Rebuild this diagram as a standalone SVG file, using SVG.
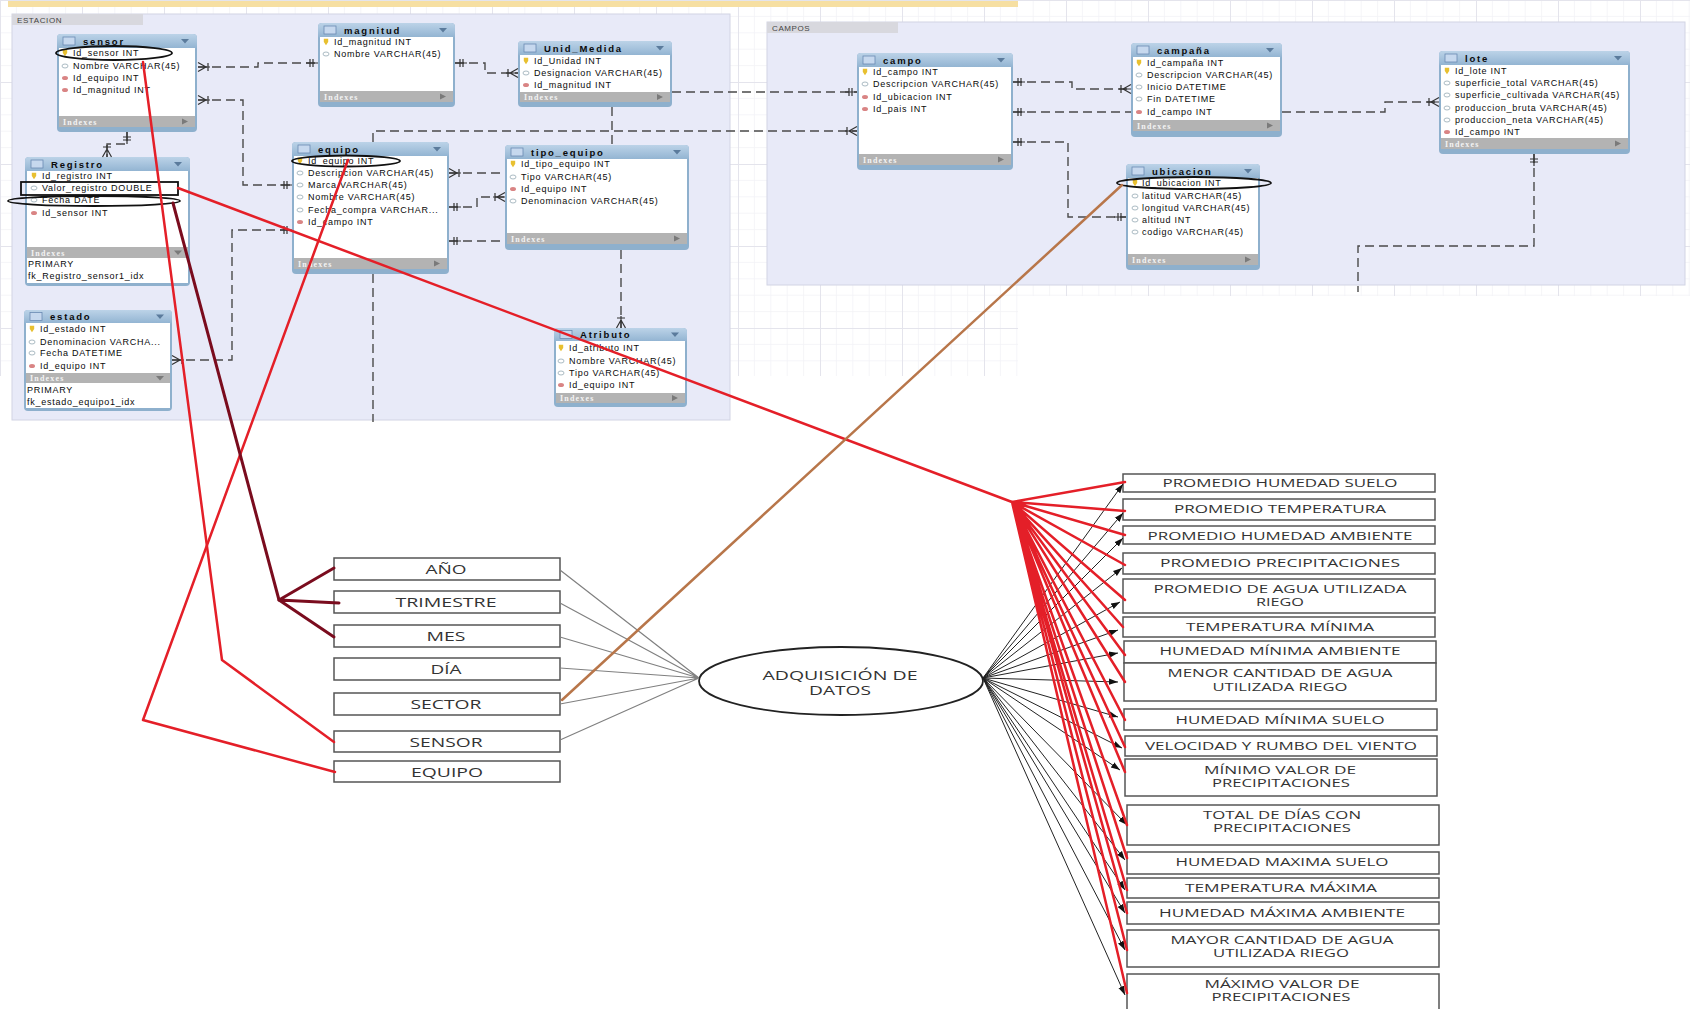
<svg xmlns="http://www.w3.org/2000/svg" width="1690" height="1009" viewBox="0 0 1690 1009">
<defs>
<linearGradient id="hg" x1="0" y1="0" x2="0" y2="1"><stop offset="0" stop-color="#bcd3e8"/><stop offset="1" stop-color="#8db0cf"/></linearGradient>
<pattern id="grid" width="82" height="82" patternUnits="userSpaceOnUse"><path d="M16.4,0V82M32.8,0V82M49.2,0V82M65.6,0V82M0,16.4H82M0,32.8H82M0,49.2H82M0,65.6H82" stroke="#f2f2f6" stroke-width="0.8" fill="none"/><path d="M0.5,0V82M0,0.5H82" stroke="#e4e4ec" stroke-width="1" fill="none"/></pattern>
<g id="ti"><rect x="-6" y="-4" width="12" height="8" fill="#c6d8ee" stroke="#6a8ab2" stroke-width="0.8"/></g>
<g id="dd"><path d="M-4,-2L4,-2L0,2.5z" fill="#5b7b9c"/></g>
<g id="ddg"><path d="M-4,-2L4,-2L0,2.5z" fill="#7a7a7a"/></g>
<g id="rtri"><path d="M-3,-3L3,0L-3,3z" fill="#7a7a7a"/></g>
<g id="ik"><path d="M-2.2,-3.2H2.2V0L0,3.2L-2.2,0z" fill="#e8c030"/></g>
<g id="ic"><ellipse rx="3" ry="2" fill="#fff" stroke="#96aab4" stroke-width="0.8"/></g>
<g id="if"><ellipse rx="3" ry="2" fill="#d98484"/></g>
<marker id="one" viewBox="-13 -6 14 12" refX="0" refY="0" markerWidth="14" markerHeight="12" markerUnits="userSpaceOnUse" orient="auto-start-reverse"><path d="M-5,-4V4M-8,-4V4M-12,0H0" stroke="#333" stroke-width="1.2" fill="none"/></marker>
<marker id="many" viewBox="-13 -6 14 12" refX="0" refY="0" markerWidth="14" markerHeight="12" markerUnits="userSpaceOnUse" orient="auto-start-reverse"><path d="M-8,0L0,-4.5M-8,0L0,4.5M-12,0H0M-10,-4V4" stroke="#333" stroke-width="1.2" fill="none"/></marker>
<marker id="ah" viewBox="0 0 10 10" refX="10" refY="5" markerWidth="9" markerHeight="9" markerUnits="userSpaceOnUse" orient="auto"><path d="M0,1.5L10,5L0,8.5z" fill="#111"/></marker>
</defs>
<style>
.panel{fill:#e8eaf8;stroke:#d2d4e4;stroke-width:1}
.tab{fill:#d8d8de}
.tabt{font-family:"Liberation Sans",sans-serif;font-size:8px;fill:#444;letter-spacing:0.6px}
.frame{fill:#8eb0cd}
.hdr{fill:url(#hg)}
.body{fill:#fff}
.idx{fill:#b3b3b3}
.tt{font-family:"Liberation Sans",sans-serif;font-size:9.5px;font-weight:bold;fill:#0a0a0a;letter-spacing:1.8px}
.rt{font-family:"Liberation Sans",sans-serif;font-size:9px;fill:#0a0a0a;letter-spacing:0.75px}
.ix{font-family:"Liberation Serif",serif;font-size:8px;font-weight:bold;fill:#f4f4f4;letter-spacing:1.2px}
.er{fill:none;stroke:#4a4a4a;stroke-width:1.4;stroke-dasharray:9 5}
.hl{fill:none;stroke:#111;stroke-width:1.8}
.red{fill:none;stroke:#e41f28;stroke-width:2.5;stroke-linecap:round;stroke-linejoin:round}
.mar{fill:none;stroke:#7a0c1e;stroke-width:3;stroke-linecap:round}
.gry{fill:none;stroke:#808080;stroke-width:1.2}
.blk{fill:none;stroke:#222;stroke-width:1}
.box{fill:#fff;stroke:#555;stroke-width:1.5}
.lt{font-family:"Open Sans","Liberation Sans",sans-serif;font-size:13px;fill:#333;text-anchor:middle}
.bt{font-family:"Open Sans","Liberation Sans",sans-serif;font-size:11px;fill:#333;text-anchor:middle}
</style>
<rect width="1690" height="1009" fill="#fff"/>
<rect x="0" y="0" width="1018" height="376" fill="url(#grid)"/>
<rect x="1018" y="0" width="672" height="296" fill="url(#grid)"/>
<rect x="8" y="1" width="1010" height="6" fill="#f6dfa2"/>
<g id="panel-estacion"><rect class="panel" x="12" y="14" width="718" height="406"/><rect class="tab" x="12" y="14" width="131" height="11"/><text class="tabt" x="17" y="22.5">ESTACION</text></g>
<g id="panel-campos"><rect class="panel" x="767" y="22" width="918" height="263"/><rect class="tab" x="767" y="22" width="131" height="11"/><text class="tabt" x="772" y="30.5">CAMPOS</text></g>

<g id="t-sensor">
<rect class="frame" x="57" y="34" width="140" height="98" rx="4"/><rect class="hdr" x="57" y="34" width="140" height="16" rx="4"/>
<rect class="body" x="59" y="48" width="136" height="68"/><rect class="idx" x="59" y="116" width="136" height="11"/>
<use href="#ti" x="69" y="41"/><text class="tt" x="83" y="44.5">sensor</text><use href="#dd" x="185" y="41"/>
<use href="#ik" x="65" y="53"/><text class="rt" x="73" y="56">Id_sensor INT</text>
<use href="#ic" x="65" y="66"/><text class="rt" x="73" y="69">Nombre VARCHAR(45)</text>
<use href="#if" x="65" y="78"/><text class="rt" x="73" y="81">Id_equipo INT</text>
<use href="#if" x="65" y="90"/><text class="rt" x="73" y="93">Id_magnitud INT</text>
<text class="ix" x="63" y="124.5">Indexes</text><use href="#rtri" x="185" y="121.5"/>
</g>
<g id="t-magnitud">
<rect class="frame" x="318" y="23" width="137" height="84" rx="4"/><rect class="hdr" x="318" y="23" width="137" height="16" rx="4"/>
<rect class="body" x="320" y="37" width="133" height="54"/><rect class="idx" x="320" y="91" width="133" height="11"/>
<use href="#ti" x="330" y="30"/><text class="tt" x="344" y="33.5">magnitud</text><use href="#dd" x="443" y="30"/>
<use href="#ik" x="326" y="42"/><text class="rt" x="334" y="45">Id_magnitud INT</text>
<use href="#ic" x="326" y="54"/><text class="rt" x="334" y="57">Nombre VARCHAR(45)</text>
<text class="ix" x="324" y="99.5">Indexes</text><use href="#rtri" x="443" y="96.5"/>
</g>
<g id="t-unid-medida">
<rect class="frame" x="518" y="41" width="154" height="66" rx="4"/><rect class="hdr" x="518" y="41" width="154" height="16" rx="4"/>
<rect class="body" x="520" y="55" width="150" height="37"/><rect class="idx" x="520" y="92" width="150" height="10"/>
<use href="#ti" x="530" y="48"/><text class="tt" x="544" y="51.5">Unid_Medida</text><use href="#dd" x="660" y="48"/>
<use href="#ik" x="526" y="61"/><text class="rt" x="534" y="64">Id_Unidad INT</text>
<use href="#ic" x="526" y="73"/><text class="rt" x="534" y="76">Designacion VARCHAR(45)</text>
<use href="#if" x="526" y="85"/><text class="rt" x="534" y="88">Id_magnitud INT</text>
<text class="ix" x="524" y="100">Indexes</text><use href="#rtri" x="660" y="97"/>
</g>
<g id="t-equipo">
<rect class="frame" x="292" y="142" width="157" height="132" rx="4"/><rect class="hdr" x="292" y="142" width="157" height="16" rx="4"/>
<rect class="body" x="294" y="156" width="153" height="102"/><rect class="idx" x="294" y="258" width="153" height="11"/>
<use href="#ti" x="304" y="149"/><text class="tt" x="318" y="152.5">equipo</text><use href="#dd" x="437" y="149"/>
<use href="#ik" x="300" y="161"/><text class="rt" x="308" y="164">Id_equipo INT</text>
<use href="#ic" x="300" y="173"/><text class="rt" x="308" y="176">Descripcion VARCHAR(45)</text>
<use href="#ic" x="300" y="185"/><text class="rt" x="308" y="188">Marca VARCHAR(45)</text>
<use href="#ic" x="300" y="197"/><text class="rt" x="308" y="200">Nombre VARCHAR(45)</text>
<use href="#ic" x="300" y="210"/><text class="rt" x="308" y="213">Fecha_compra VARCHAR...</text>
<use href="#if" x="300" y="222"/><text class="rt" x="308" y="225">Id_campo INT</text>
<text class="ix" x="298" y="266.5">Indexes</text><use href="#rtri" x="437" y="263.5"/>
</g>
<g id="t-tipo-equipo">
<rect class="frame" x="505" y="145" width="184" height="105" rx="4"/><rect class="hdr" x="505" y="145" width="184" height="16" rx="4"/>
<rect class="body" x="507" y="159" width="180" height="74"/><rect class="idx" x="507" y="233" width="180" height="11"/>
<use href="#ti" x="517" y="152"/><text class="tt" x="531" y="155.5">tipo_equipo</text><use href="#dd" x="677" y="152"/>
<use href="#ik" x="513" y="164"/><text class="rt" x="521" y="167">Id_tipo_equipo INT</text>
<use href="#ic" x="513" y="177"/><text class="rt" x="521" y="180">Tipo VARCHAR(45)</text>
<use href="#if" x="513" y="189"/><text class="rt" x="521" y="192">Id_equipo INT</text>
<use href="#ic" x="513" y="201"/><text class="rt" x="521" y="204">Denominacion VARCHAR(45)</text>
<text class="ix" x="511" y="241.5">Indexes</text><use href="#rtri" x="677" y="238.5"/>
</g>
<g id="t-registro">
<rect class="frame" x="25" y="157" width="165" height="129" rx="4"/><rect class="hdr" x="25" y="157" width="165" height="16" rx="4"/>
<rect class="body" x="27" y="171" width="161" height="76"/><rect class="idx" x="27" y="247" width="161" height="11"/><rect class="body" x="27" y="258" width="161" height="25"/>
<use href="#ti" x="37" y="164"/><text class="tt" x="51" y="167.5">Registro</text><use href="#dd" x="178" y="164"/>
<use href="#ik" x="34" y="176"/><text class="rt" x="42" y="179">Id_registro INT</text>
<use href="#ic" x="34" y="188"/><text class="rt" x="42" y="191">Valor_registro DOUBLE</text>
<use href="#ic" x="34" y="200"/><text class="rt" x="42" y="203">Fecha DATE</text>
<use href="#if" x="34" y="213"/><text class="rt" x="42" y="216">Id_sensor INT</text>
<text class="ix" x="31" y="255.5">Indexes</text><use href="#ddg" x="178" y="252.5"/>
<text class="rt" x="28" y="267">PRIMARY</text><text class="rt" x="28" y="279">fk_Registro_sensor1_idx</text>
</g>
<g id="t-estado">
<rect class="frame" x="24" y="310" width="148" height="101" rx="4"/><rect class="hdr" x="24" y="310" width="148" height="15" rx="4"/>
<rect class="body" x="26" y="323" width="144" height="50"/><rect class="idx" x="26" y="373" width="144" height="10"/><rect class="body" x="26" y="383" width="144" height="25"/>
<use href="#ti" x="36" y="316.5"/><text class="tt" x="50" y="320">estado</text><use href="#dd" x="160" y="316.5"/>
<use href="#ik" x="32" y="329"/><text class="rt" x="40" y="332">Id_estado INT</text>
<use href="#ic" x="32" y="342"/><text class="rt" x="40" y="345">Denominacion VARCHA...</text>
<use href="#ic" x="32" y="353"/><text class="rt" x="40" y="356">Fecha DATETIME</text>
<use href="#if" x="32" y="366"/><text class="rt" x="40" y="369">Id_equipo INT</text>
<text class="ix" x="30" y="381">Indexes</text><use href="#ddg" x="160" y="378"/>
<text class="rt" x="27" y="393">PRIMARY</text><text class="rt" x="27" y="405">fk_estado_equipo1_idx</text>
</g>
<g id="t-atributo">
<rect class="frame" x="554" y="328" width="133" height="79" rx="4"/><rect class="hdr" x="554" y="328" width="133" height="15" rx="4"/>
<rect class="body" x="556" y="341" width="129" height="52"/><rect class="idx" x="556" y="393" width="129" height="10"/>
<use href="#ti" x="566" y="334.5"/><text class="tt" x="580" y="338">Atributo</text><use href="#dd" x="675" y="334.5"/>
<use href="#ik" x="561" y="348"/><text class="rt" x="569" y="351">Id_atributo INT</text>
<use href="#ic" x="561" y="361"/><text class="rt" x="569" y="364">Nombre VARCHAR(45)</text>
<use href="#ic" x="561" y="373"/><text class="rt" x="569" y="376">Tipo VARCHAR(45)</text>
<use href="#if" x="561" y="385"/><text class="rt" x="569" y="388">Id_equipo INT</text>
<text class="ix" x="560" y="401">Indexes</text><use href="#rtri" x="675" y="398"/>
</g>
<g id="t-campo">
<rect class="frame" x="857" y="53" width="156" height="117" rx="4"/><rect class="hdr" x="857" y="53" width="156" height="16" rx="4"/>
<rect class="body" x="859" y="67" width="152" height="87"/><rect class="idx" x="859" y="154" width="152" height="11"/>
<use href="#ti" x="869" y="60"/><text class="tt" x="883" y="63.5">campo</text><use href="#dd" x="1001" y="60"/>
<use href="#ik" x="865" y="72"/><text class="rt" x="873" y="75">Id_campo INT</text>
<use href="#ic" x="865" y="84"/><text class="rt" x="873" y="87">Descripcion VARCHAR(45)</text>
<use href="#if" x="865" y="97"/><text class="rt" x="873" y="100">Id_ubicacion INT</text>
<use href="#if" x="865" y="109"/><text class="rt" x="873" y="112">Id_pais INT</text>
<text class="ix" x="863" y="162.5">Indexes</text><use href="#rtri" x="1001" y="159.5"/>
</g>
<g id="t-campana">
<rect class="frame" x="1131" y="43" width="151" height="94" rx="4"/><rect class="hdr" x="1131" y="43" width="151" height="16" rx="4"/>
<rect class="body" x="1133" y="57" width="147" height="63"/><rect class="idx" x="1133" y="120" width="147" height="11"/>
<use href="#ti" x="1143" y="50"/><text class="tt" x="1157" y="53.5">campaña</text><use href="#dd" x="1270" y="50"/>
<use href="#ik" x="1139" y="63"/><text class="rt" x="1147" y="66">Id_campaña INT</text>
<use href="#ic" x="1139" y="75"/><text class="rt" x="1147" y="78">Descripcion VARCHAR(45)</text>
<use href="#ic" x="1139" y="87"/><text class="rt" x="1147" y="90">Inicio DATETIME</text>
<use href="#ic" x="1139" y="99"/><text class="rt" x="1147" y="102">Fin DATETIME</text>
<use href="#if" x="1139" y="112"/><text class="rt" x="1147" y="115">Id_campo INT</text>
<text class="ix" x="1137" y="128.5">Indexes</text><use href="#rtri" x="1270" y="125.5"/>
</g>
<g id="t-ubicacion">
<rect class="frame" x="1126" y="164" width="134" height="106" rx="4"/><rect class="hdr" x="1126" y="164" width="134" height="16" rx="4"/>
<rect class="body" x="1128" y="178" width="130" height="76"/><rect class="idx" x="1128" y="254" width="130" height="11"/>
<use href="#ti" x="1138" y="171"/><text class="tt" x="1152" y="174.5">ubicacion</text><use href="#dd" x="1248" y="171"/>
<use href="#ik" x="1135" y="183"/><text class="rt" x="1142" y="186">Id_ubicacion INT</text>
<use href="#ic" x="1135" y="196"/><text class="rt" x="1142" y="199">latitud VARCHAR(45)</text>
<use href="#ic" x="1135" y="208"/><text class="rt" x="1142" y="211">longitud VARCHAR(45)</text>
<use href="#ic" x="1135" y="220"/><text class="rt" x="1142" y="223">altitud INT</text>
<use href="#ic" x="1135" y="232"/><text class="rt" x="1142" y="235">codigo VARCHAR(45)</text>
<text class="ix" x="1132" y="262.5">Indexes</text><use href="#rtri" x="1248" y="259.5"/>
</g>
<g id="t-lote">
<rect class="frame" x="1439" y="51" width="191" height="103" rx="4"/><rect class="hdr" x="1439" y="51" width="191" height="16" rx="4"/>
<rect class="body" x="1441" y="65" width="187" height="73"/><rect class="idx" x="1441" y="138" width="187" height="11"/>
<use href="#ti" x="1451" y="58"/><text class="tt" x="1465" y="61.5">lote</text><use href="#dd" x="1618" y="58"/>
<use href="#ik" x="1447" y="71"/><text class="rt" x="1455" y="74">Id_lote INT</text>
<use href="#ic" x="1447" y="83"/><text class="rt" x="1455" y="86">superficie_total VARCHAR(45)</text>
<use href="#ic" x="1447" y="95"/><text class="rt" x="1455" y="98">superficie_cultivada VARCHAR(45)</text>
<use href="#ic" x="1447" y="108"/><text class="rt" x="1455" y="111">produccion_bruta VARCHAR(45)</text>
<use href="#ic" x="1447" y="120"/><text class="rt" x="1455" y="123">produccion_neta VARCHAR(45)</text>
<use href="#if" x="1447" y="132"/><text class="rt" x="1455" y="135">Id_campo INT</text>
<text class="ix" x="1445" y="146.5">Indexes</text><use href="#rtri" x="1618" y="143.5"/>
</g>

<g id="highlights">
<ellipse class="hl" cx="114" cy="53" rx="58" ry="7"/>
<rect class="hl" x="21" y="182" width="157" height="13" stroke-width="2"/>
<ellipse class="hl" cx="94" cy="201" rx="86" ry="5"/>
<ellipse class="hl" cx="346" cy="161" rx="54" ry="5.5" stroke="#c07850"/>
<ellipse class="hl" cx="1194" cy="183" rx="77" ry="6"/>
</g>

<g id="n-left">
<g id="n-ano"><rect class="box" x="334" y="558" width="226" height="22"/><text class="lt" x="446" y="574" textLength="41" lengthAdjust="spacingAndGlyphs">AÑO</text></g>
<g id="n-trimestre"><rect class="box" x="334" y="591" width="226" height="22"/><text class="lt" x="446" y="607" textLength="101" lengthAdjust="spacingAndGlyphs">TRIMESTRE</text></g>
<g id="n-mes"><rect class="box" x="334" y="625" width="226" height="22"/><text class="lt" x="446" y="641" textLength="39" lengthAdjust="spacingAndGlyphs">MES</text></g>
<g id="n-dia"><rect class="box" x="334" y="658" width="226" height="22"/><text class="lt" x="446" y="674" textLength="31" lengthAdjust="spacingAndGlyphs">DÍA</text></g>
<g id="n-sector"><rect class="box" x="334" y="693" width="226" height="22"/><text class="lt" x="446" y="709" textLength="71" lengthAdjust="spacingAndGlyphs">SECTOR</text></g>
<g id="n-sensor"><rect class="box" x="334" y="731" width="226" height="21"/><text class="lt" x="446" y="746.5" textLength="73" lengthAdjust="spacingAndGlyphs">SENSOR</text></g>
<g id="n-equipo"><rect class="box" x="334" y="761" width="226" height="21"/><text class="lt" x="447" y="776.5" textLength="72" lengthAdjust="spacingAndGlyphs">EQUIPO</text></g>
</g>
<g id="n-adquisicion">
<ellipse cx="841" cy="681" rx="142" ry="34" fill="#fff" stroke="#222" stroke-width="1.8"/>
<text class="lt" x="840" y="680" textLength="155" lengthAdjust="spacingAndGlyphs">ADQUISICIÓN DE</text>
<text class="lt" x="840" y="695" textLength="62" lengthAdjust="spacingAndGlyphs">DATOS</text>
</g>
<g id="n-right">
<g id="r1"><rect class="box" x="1123" y="474" width="312" height="18"/><text class="bt" x="1280" y="487" textLength="235" lengthAdjust="spacingAndGlyphs">PROMEDIO HUMEDAD SUELO</text></g>
<g id="r2"><rect class="box" x="1123" y="499" width="312" height="21"/><text class="bt" x="1280" y="513" textLength="212" lengthAdjust="spacingAndGlyphs">PROMEDIO TEMPERATURA</text></g>
<g id="r3"><rect class="box" x="1123" y="526" width="312" height="18"/><text class="bt" x="1280" y="539.5" textLength="265" lengthAdjust="spacingAndGlyphs">PROMEDIO HUMEDAD AMBIENTE</text></g>
<g id="r4"><rect class="box" x="1123" y="553" width="312" height="21"/><text class="bt" x="1280" y="567" textLength="240" lengthAdjust="spacingAndGlyphs">PROMEDIO PRECIPITACIONES</text></g>
<g id="r5"><rect class="box" x="1123" y="579" width="312" height="34"/><text class="bt" x="1280" y="593" textLength="253" lengthAdjust="spacingAndGlyphs">PROMEDIO DE AGUA UTILIZADA</text><text class="bt" x="1280" y="606" textLength="48" lengthAdjust="spacingAndGlyphs">RIEGO</text></g>
<g id="r6"><rect class="box" x="1123" y="617" width="312" height="20"/><text class="bt" x="1280" y="631" textLength="188" lengthAdjust="spacingAndGlyphs">TEMPERATURA MÍNIMA</text></g>
<g id="r7"><rect class="box" x="1124" y="641" width="312" height="22"/><text class="bt" x="1280" y="655" textLength="241" lengthAdjust="spacingAndGlyphs">HUMEDAD MÍNIMA AMBIENTE</text></g>
<g id="r8"><rect class="box" x="1124" y="663" width="312" height="38"/><text class="bt" x="1280" y="677" textLength="225" lengthAdjust="spacingAndGlyphs">MENOR CANTIDAD DE AGUA</text><text class="bt" x="1280" y="691" textLength="135" lengthAdjust="spacingAndGlyphs">UTILIZADA RIEGO</text></g>
<g id="r9"><rect class="box" x="1124" y="709" width="313" height="21"/><text class="bt" x="1280" y="723.5" textLength="209" lengthAdjust="spacingAndGlyphs">HUMEDAD MÍNIMA SUELO</text></g>
<g id="r10"><rect class="box" x="1125" y="736" width="312" height="20"/><text class="bt" x="1281" y="750" textLength="272" lengthAdjust="spacingAndGlyphs">VELOCIDAD Y RUMBO DEL VIENTO</text></g>
<g id="r11"><rect class="box" x="1125" y="759" width="312" height="37"/><text class="bt" x="1280" y="773.5" textLength="152" lengthAdjust="spacingAndGlyphs">MÍNIMO VALOR DE</text><text class="bt" x="1281" y="787" textLength="138" lengthAdjust="spacingAndGlyphs">PRECIPITACIONES</text></g>
<g id="r12"><rect class="box" x="1127" y="805" width="312" height="40"/><text class="bt" x="1282" y="819" textLength="158" lengthAdjust="spacingAndGlyphs">TOTAL DE DÍAS CON</text><text class="bt" x="1282" y="832" textLength="138" lengthAdjust="spacingAndGlyphs">PRECIPITACIONES</text></g>
<g id="r13"><rect class="box" x="1127" y="852" width="312" height="22"/><text class="bt" x="1282" y="866" textLength="213" lengthAdjust="spacingAndGlyphs">HUMEDAD MAXIMA SUELO</text></g>
<g id="r14"><rect class="box" x="1127" y="878" width="312" height="20"/><text class="bt" x="1281" y="892" textLength="192" lengthAdjust="spacingAndGlyphs">TEMPERATURA MÁXIMA</text></g>
<g id="r15"><rect class="box" x="1127" y="902" width="312" height="22"/><text class="bt" x="1282" y="916.5" textLength="246" lengthAdjust="spacingAndGlyphs">HUMEDAD MÁXIMA AMBIENTE</text></g>
<g id="r16"><rect class="box" x="1127" y="930" width="312" height="37"/><text class="bt" x="1282" y="944" textLength="223" lengthAdjust="spacingAndGlyphs">MAYOR CANTIDAD DE AGUA</text><text class="bt" x="1281" y="957" textLength="136" lengthAdjust="spacingAndGlyphs">UTILIZADA RIEGO</text></g>
<g id="r17"><rect class="box" x="1127" y="974" width="312" height="42"/><text class="bt" x="1282" y="988" textLength="155" lengthAdjust="spacingAndGlyphs">MÁXIMO VALOR DE</text><text class="bt" x="1281" y="1001" textLength="139" lengthAdjust="spacingAndGlyphs">PRECIPITACIONES</text></g>
</g>

<g id="connectors">
<g id="er-links">
<path class="er" d="M198,67H258V63H318" marker-start="url(#many)" marker-end="url(#one)"/>
<path class="er" d="M198,100H243V185H292" marker-start="url(#many)" marker-end="url(#one)"/>
<path class="er" d="M127,132V144H107V157" marker-start="url(#one)" marker-end="url(#many)"/>
<path class="er" d="M455,63H485V73H518" marker-start="url(#one)" marker-end="url(#many)"/>
<path class="er" d="M672,92H857" marker-end="url(#one)"/>
<path class="er" d="M373,142V131H857" marker-end="url(#many)"/>
<path class="er" d="M612,107V145"/>
<path class="er" d="M449,173H505" marker-start="url(#many)"/>
<path class="er" d="M449,207H477V197H505" marker-start="url(#one)" marker-end="url(#many)"/>
<path class="er" d="M449,241H505" marker-start="url(#one)"/>
<path class="er" d="M621,250V328" marker-end="url(#many)"/>
<path class="er" d="M373,274V422"/>
<path class="er" d="M172,360H232V230H292" marker-start="url(#many)" marker-end="url(#one)"/>
<path class="er" d="M1013,82H1072V89H1131" marker-start="url(#one)" marker-end="url(#many)"/>
<path class="er" d="M1013,112H1131" marker-start="url(#one)"/>
<path class="er" d="M1282,112H1385V102H1439" marker-end="url(#many)"/>
<path class="er" d="M1013,142H1068V217H1126" marker-start="url(#one)" marker-end="url(#one)"/>
<path class="er" d="M1534,154V246H1358V292" marker-start="url(#one)"/>
</g>
<g id="gray-links">
<path class="gry" d="M560,570L699,678M560,603L699,678M560,637L699,678M560,668L699,678M560,704L699,678M560,740L699,678"/>
</g>
<g id="black-links">
<path class="blk" marker-end="url(#ah)" d="M983,678L1123,484"/>
<path class="blk" marker-end="url(#ah)" d="M983,678L1123,513"/>
<path class="blk" marker-end="url(#ah)" d="M983,678L1123,538"/>
<path class="blk" marker-end="url(#ah)" d="M983,678L1122,568"/>
<path class="blk" marker-end="url(#ah)" d="M983,678L1120,602"/>
<path class="blk" marker-end="url(#ah)" d="M983,678L1118,630"/>
<path class="blk" marker-end="url(#ah)" d="M983,678L1118,653"/>
<path class="blk" marker-end="url(#ah)" d="M983,678L1118,682"/>
<path class="blk" marker-end="url(#ah)" d="M983,678L1118,717"/>
<path class="blk" marker-end="url(#ah)" d="M983,678L1122,748"/>
<path class="blk" marker-end="url(#ah)" d="M983,678L1120,770"/>
<path class="blk" marker-end="url(#ah)" d="M983,678L1127,825"/>
<path class="blk" marker-end="url(#ah)" d="M983,678L1125,860"/>
<path class="blk" marker-end="url(#ah)" d="M983,678L1125,890"/>
<path class="blk" marker-end="url(#ah)" d="M983,678L1125,913"/>
<path class="blk" marker-end="url(#ah)" d="M983,678L1125,950"/>
<path class="blk" marker-end="url(#ah)" d="M983,678L1125,995"/>
</g>
<g id="red-links">
<path class="red" d="M143,62L222,660L334,742"/>
<path class="red" d="M348,160L143,720L335,772"/>
<path class="mar" d="M173,203L279,600"/>
<path class="mar" d="M279,600L334,568M279,600L339,603M279,600L334,637" stroke-width="2.6"/>
<path class="red" d="M178,188L1012,502"/>
<path d="M562,700L1122,185" fill="none" stroke="#b8764a" stroke-width="2.5" stroke-linecap="round"/>
<path class="red" d="M1012,502L1125,482M1012,502L1125,511M1012,502L1125,535M1012,502L1125,565M1012,502L1125,600M1012,502L1123,627M1012,502L1125,655M1012,502L1125,682M1012,502L1125,720M1012,502L1125,747M1012,502L1125,772M1012,502L1127,825M1012,502L1127,858M1012,502L1127,890M1012,502L1127,913M1012,502L1127,950M1012,502L1127,993"/>
</g>
</g>
</svg>
